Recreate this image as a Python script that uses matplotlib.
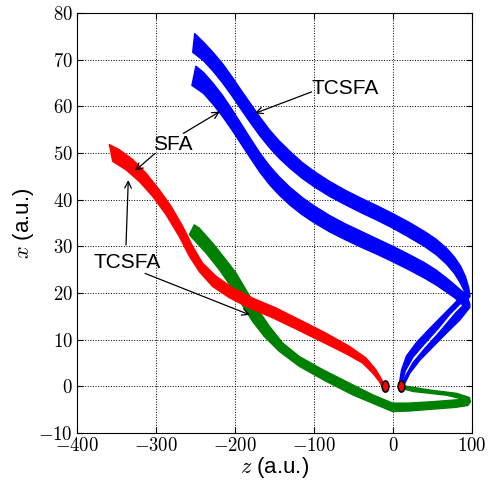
import matplotlib
matplotlib.use('Agg')
import matplotlib.pyplot as plt
import numpy as np
from matplotlib.path import Path
from matplotlib.transforms import Affine2D
from matplotlib.ticker import FuncFormatter

plt.rcParams['mathtext.fontset'] = 'cm'
plt.rcParams['font.family'] = ['Liberation Sans', 'DejaVu Sans']

# trajectory bundles, each given by its two edges (z, x) from start to end point
tcsfa_blue_outer = [(-251, 75.6), (-240, 73.8), (-228, 71.6), (-216, 69.2), (-204, 66.4),
                    (-192, 63.4), (-180, 60.5), (-168, 57.6), (-156, 54.9), (-144, 52.6),
                    (-130, 50.3), (-115, 48.0), (-100, 46.1), (-80, 43.9), (-60, 42.0),
                    (-40, 40.3), (-20, 38.7), (0, 37.0), (20, 35.2), (40, 33.2),
                    (55, 31.5), (68, 29.6), (78, 27.7), (86, 25.7), (92, 23.5),
                    (96, 21.2), (97.8, 19.3), (95, 18.7), (88.9, 18.3), (72, 15.4),
                    (57, 12.3), (40, 9.1), (25.7, 6.3), (16, 3.4), (10, 0)]
tcsfa_blue_inner = [(-253.5, 71.6), (-240, 69.8), (-228, 67.6), (-216, 65.1), (-204, 62.3),
                    (-192, 59.3), (-180, 56.4), (-168, 53.6), (-156, 51.1), (-144, 48.9),
                    (-130, 46.7), (-115, 44.6), (-100, 42.8), (-80, 40.7), (-60, 38.9),
                    (-40, 37.2), (-20, 35.6), (0, 33.9), (20, 32.0), (40, 30.0),
                    (55, 28.2), (68, 26.2), (78, 24.2), (86, 22.0), (91, 20.3),
                    (80.6, 18.2), (63.7, 15.3), (46.8, 12.4), (30, 9.4), (17.3, 6.5),
                    (11, 3.5), (8, 0.3), (10, 0)]

sfa_blue_outer = [(-249.5, 68.6), (-240, 67.3), (-228, 65.0), (-216, 62.4), (-204, 59.4),
                  (-192, 56.2), (-180, 53.0), (-168, 49.9), (-156, 47.2), (-144, 44.9),
                  (-130, 42.6), (-115, 40.5), (-100, 38.7), (-80, 36.6), (-60, 34.8),
                  (-40, 33.2), (-20, 31.6), (0, 30.0), (20, 28.3), (40, 26.5),
                  (55, 24.9), (68, 23.2), (78, 21.8), (86, 20.6), (91, 20.0),
                  (95, 19.0), (97.6, 17.5), (97.5, 16.9), (84.8, 14.2), (67.9, 11.4),
                  (51, 8.5), (34.2, 5.6), (21.5, 2.8), (13, -0.1), (10, 0)]
sfa_blue_inner = [(-254.5, 64.5), (-240, 62.8), (-228, 60.5), (-216, 57.9), (-204, 55.0),
                  (-192, 51.9), (-180, 48.8), (-168, 45.8), (-156, 43.2), (-144, 41.0),
                  (-130, 38.8), (-115, 36.8), (-100, 35.1), (-80, 33.1), (-60, 31.4),
                  (-40, 29.8), (-20, 28.3), (0, 26.7), (20, 25.0), (40, 23.2),
                  (55, 21.7), (68, 20.2), (78, 19.0), (85, 18.0), (89, 17.3),
                  (80, 15.8), (57, 11.2), (40, 8.0), (25.7, 5.1), (16, 2.2), (10, 0)]

red_upper = [(-359, 51.8), (-346.4, 50.7), (-329.5, 48.6), (-312.7, 45.7), (-295.8, 42.1),
             (-281, 38.6), (-266.2, 34.3), (-253.6, 30.0), (-241, 26.4), (-224, 23.6),
             (-203, 21.1), (-177.6, 18.9), (-148.1, 16.8), (-118.6, 14.3), (-84.8, 11.4),
             (-55.3, 8.6), (-34.2, 6.1), (-21.6, 3.6), (-14, 1.4), (-11, 0)]
red_lower = [(-354.8, 48.2), (-338, 46.4), (-321.1, 43.9), (-304.2, 40.7), (-287.3, 36.8),
             (-270.5, 32.1), (-257.8, 27.9), (-245.2, 24.6), (-228.3, 21.4), (-207.2, 19.0),
             (-181.9, 16.8), (-152.3, 14.7), (-122.8, 12.3), (-89.1, 9.5), (-59.5, 7.0),
             (-38.4, 5.0), (-25.8, 2.9), (-17.3, 1.1), (-12.3, -0.4), (-11, 0)]

green_outer = [(-257.8, 32.5), (-255.7, 32.1), (-236.7, 28.6), (-219.8, 25.0), (-205.1, 21.4),
               (-192.4, 17.9), (-177.6, 13.9), (-162.9, 10.7), (-143.9, 7.5), (-118.6, 4.3),
               (-84.8, 1.1), (-51.1, -1.8), (-21.6, -3.9), (-0.4, -5.4), (20, -5.3),
               (50, -4.9), (80, -4.5), (95, -4.1), (98.4, -3.3), (97, -2.4),
               (80.6, -1.5), (46.8, -0.8), (17.3, 0.0), (10, 0)]
green_inner = [(-251.5, 34.6), (-245.2, 33.9), (-228.3, 30.7), (-211.4, 27.1), (-198.7, 24.3),
               (-186.1, 20.7), (-173.4, 17.1), (-156.5, 12.9), (-139.7, 9.3), (-118.6, 6.4),
               (-89.1, 3.6), (-55.3, 0.7), (-25.8, -1.8), (-0.4, -3.6), (20, -3.6),
               (50, -3.3), (80, -2.9), (90, -2.8), (68, -1.9), (25.7, -1.1),
               (12, -0.5), (10, 0)]

# end points of the bundles
end_z = [-10, 10]
end_x = [0, 0]

fig = plt.figure(figsize=(4.94, 4.82), dpi=100)
ax = fig.add_axes([0.156, 0.1017, 0.799, 0.8713])


def band(edge_a, edge_b, color):
    pts = np.array(edge_a + edge_b[::-1])
    ax.fill(pts[:, 0], pts[:, 1], color=color, lw=1.0, joinstyle='round', zorder=2)


band(tcsfa_blue_outer, tcsfa_blue_inner, 'b')
band(sfa_blue_outer, sfa_blue_inner, 'b')
band(green_outer, green_inner, 'g')
band(red_upper, red_lower, 'r')

# small upright ellipse for the end points
ell = Path.unit_circle().transformed(Affine2D().scale(0.6, 1.0))
ax.plot(end_z, end_x, ls='none', marker=ell, ms=8, mfc='r', mec='k', mew=1.2, zorder=4)

ax.set_xlim(-400, 100)
ax.set_ylim(-10, 80)
ax.set_xticks(np.arange(-400, 101, 100))
ax.set_yticks(np.arange(-10, 81, 10))
fmt = FuncFormatter(lambda v, p: r'$%d$' % v)
ax.xaxis.set_major_formatter(fmt)
ax.yaxis.set_major_formatter(fmt)
ax.tick_params(direction='in', top=True, right=True, labelsize=13.5, length=4, pad=3)
ax.grid(True, color='k', ls=':', lw=0.7)
ax.set_axisbelow(True)

ax.set_xlabel(r'$z$ (a.u.)', fontsize=16, labelpad=0)
ax.set_ylabel(r'$x$ (a.u.)', fontsize=16, labelpad=2)

txt = dict(fontsize=15, ha='center', va='center', zorder=5)
arr = dict(arrowstyle='->', color='k', lw=0.9, shrinkA=0, shrinkB=0, mutation_scale=12)

ax.text(-60.8, 63.9, 'TCSFA', **txt)
ax.annotate('', xy=(-174.7, 58.5), xytext=(-102.9, 63.1), arrowprops=arr)

ax.text(-278.5, 51.9, 'SFA', **txt)
ax.annotate('', xy=(-219.0, 58.9), xytext=(-265.4, 54.2), arrowprops=arr)
ax.annotate('', xy=(-326.6, 46.2), xytext=(-301.3, 49.9), arrowprops=arr)

ax.text(-337.1, 26.6, 'TCSFA', **txt)
ax.annotate('', xy=(-335.1, 44.2), xytext=(-338.0, 30.3), arrowprops=arr)
ax.annotate('', xy=(-181.0, 15.3), xytext=(-313.9, 24.2), arrowprops=arr)

fig.savefig('out.png', dpi=100)
